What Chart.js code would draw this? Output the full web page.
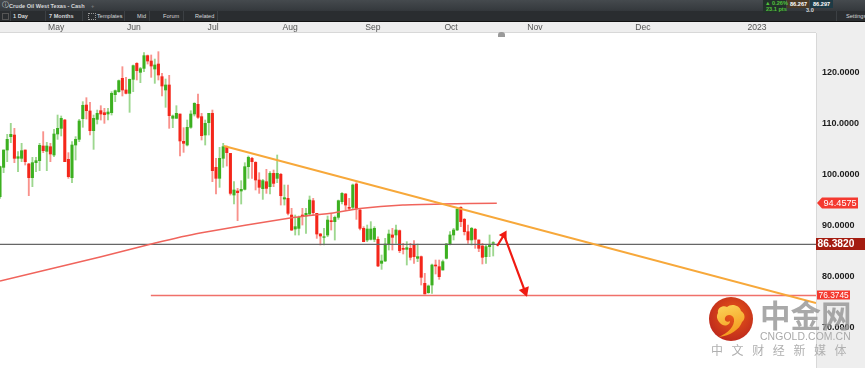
<!DOCTYPE html>
<html>
<head>
<meta charset="utf-8">
<script src="https://cdn.jsdelivr.net/npm/chart.js@4"></script>
<style>
  html, body { margin: 0; padding: 0; background: #fff; overflow: hidden; }
  #wrap { position: relative; width: 865px; height: 368px; font-family: "Liberation Sans", Arial, sans-serif; }
  canvas { position: absolute; left: 0; top: 0; }
  .bar1, .bar2 { position: absolute; left: 0; width: 865px; }
  .bar1 { top: 0; height: 11px; background: linear-gradient(#454a4e, #34383c); }
  .bar2 { top: 11px; height: 10px; background: #2a2d30; border-bottom: 1px solid #111; }
  .t { position: absolute; color: #d6d8da; font-size: 5.6px; font-weight: bold; white-space: nowrap; line-height: 8px; }
  .box { position: absolute; }
  .sep { position: absolute; top: 11px; width: 1px; height: 10px; background: #3c4044; }
  .mark { position: absolute; white-space: nowrap; }
</style>
</head>
<body>
<div id="wrap">
  <canvas id="myChart" width="865" height="368"></canvas>

  <div class="bar1"></div>
  <div class="bar2"></div>
  <div class="sep" style="left:10px"></div>
  <div class="sep" style="left:45px"></div>
  <div class="sep" style="left:82px"></div>
  <div class="sep" style="left:124px"></div>
  <div class="sep" style="left:149px"></div>
  <div class="sep" style="left:183px"></div>
  <div class="sep" style="left:217px"></div>
  <div class="sep" style="left:836px"></div>
  <div class="box" style="left:2px;top:13px;width:5px;height:5px;border:1px solid #555"></div>
  <div class="box" style="left:88px;top:13px;width:6px;height:5px;border:1px dotted #999"></div>
  <div class="t" style="left:2px;top:1px;font-size:7px;font-weight:normal">&#9432;</div>
  <div class="t" style="left:9px;top:2px">Crude Oil West Texas - Cash</div>
  <div class="t" style="left:91px;top:2px;color:#777">+</div>
  <div class="t" style="left:13px;top:12px">1 Day</div>
  <div class="t" style="left:49px;top:12px">7 Months</div>
  <div class="t" style="left:97px;top:12px;font-weight:normal">Templates</div>
  <div class="t" style="left:137px;top:12px;font-weight:normal">Mid</div>
  <div class="t" style="left:163px;top:12px;font-weight:normal">Forum</div>
  <div class="t" style="left:195px;top:12px;font-weight:normal">Related</div>

  <div class="box" style="left:763px;top:0;width:23px;height:13px;background:#23312a"></div>
  <div class="box" style="left:787px;top:0;width:22px;height:8px;background:#4a3a26"></div>
  <div class="box" style="left:810px;top:0;width:23px;height:8px;background:#1d3a45"></div>
  <div class="t" style="left:765px;top:-1px;color:#52c23c">▲ 0.26%</div>
  <div class="t" style="left:766px;top:5px;color:#52c23c">23.1 pts</div>
  <div class="t" style="left:790px;top:0;color:#fff">86.267</div>
  <div class="t" style="left:813px;top:0;color:#fff">86.297</div>
  <div class="t" style="left:806px;top:6px">3.0</div>
  <div class="t" style="left:846px;top:12px;font-weight:normal">Settings</div>

  <div class="box" style="left:498px;top:32px;width:7px;height:5px;background:#9a9a9a;border-radius:3px 3px 0 0"></div>

  <svg class="box" style="left:708px;top:296px" width="46" height="46" viewBox="0 0 46 46">
    <defs>
      <radialGradient id="disc" cx="55%" cy="40%" r="60%">
        <stop offset="0" stop-color="#ea5a18"/>
        <stop offset="1" stop-color="#bf2a1c"/>
      </radialGradient>
      <linearGradient id="swirl" x1="0" y1="0" x2="0.3" y2="1">
        <stop offset="0" stop-color="#fbd65a"/>
        <stop offset="1" stop-color="#f59a1e"/>
      </linearGradient>
    </defs>
    <circle cx="23" cy="23" r="22" fill="url(#disc)"/>
    <path d="M10 17 C9 12 15 9 19 11 C23 7 32 9 33 15 C37 17 38 23 34 26 C32 33 22 40 11 41 C20 37 27 30 26 23 C25 18 18 18 17 22 C16 25 20 27 22 25 C22 30 15 31 12 27 C9 24 8 20 10 17 Z" fill="url(#swirl)"/>
  </svg>
  <div class="mark" style="left:760px;top:297px;font:bold 30.5px/34px 'Noto Sans CJK SC';color:rgba(150,150,150,.82)">中金网</div>
  <div class="mark" style="left:760px;top:331px;font:10.4px/11px 'Liberation Sans';letter-spacing:.1px;color:#aaa">CNGOLD.COM.CN</div>
  <div class="mark" style="left:711px;top:342px;font:12px/15px 'Noto Sans CJK SC';letter-spacing:8.6px;color:#b0b0b0">中文财经新媒体</div>
</div>

<script>
// Crude oil daily candles (one entry per trading day)
const opens = [95.75,101.5,104.9,107.52,107.84,103.27,103.27,104.9,102.16,99.48,102.42,102.81,105.69,104.64,105.55,103.92,108.04,109.15,110.78,103.07,
  99.48,105.88,106.99,111.05,113.72,112.55,108.69,110.91,112.61,112.22,111.96,112.22,115.75,116.34,118.95,116.67,116.01,118.76,121.89,120.13,
  120.91,123.4,122.35,120.78,121.76,119.28,116.67,117.65,111.11,111.11,111.96,106.6,105.88,109.35,111.96,113.86,111.44,107.84,110.26,112.09,
  101.5,99.35,103.27,105.42,104.24,96.07,96.86,96.86,97.19,101.63,103.26,102.48,99.02,97.32,98.69,97.71,100.32,99.34,100.13,95.29,
  95.42,92.15,89.41,89.54,92.15,91.96,92.35,94.96,92.48,88.43,87.77,88.23,91.04,90.85,91.7,94.77,96.27,93.66,93.66,98.23,
  93.13,89.54,87.25,87.38,87.38,87.39,82.68,83.14,86.47,88.24,88.24,89.09,85.62,85.42,85.62,86.27,83.66,83.99,78.76,76.93,
  78.43,82.35,82.02,81.37,83.66,86.47,88.24,89.22,93.66,91.31,88.89,87.26,89.35,87.26,86.08,83.99,85.95,86.6];
const highs = [101.76,104.9,107.97,110.13,109.15,104.57,106.21,104.9,102.29,103.46,103.46,106.21,108.5,106.4,106.21,108.95,111.76,111.57,110.91,104.38,
  106.54,107.52,110.91,114.38,115.16,114.25,111.76,112.74,113.59,113.07,113.07,116.34,116.67,118.63,121.24,119.15,118.82,121.57,122.03,121.11,
  123.99,123.53,123.53,122.74,124.18,119.93,118.82,119.54,111.76,113.59,111.96,109.28,110.78,112.61,114.18,115.88,112.09,110.78,112.09,112.74,
  103.27,105.42,106.21,105.69,104.24,98.69,97.38,98.89,102.41,103.72,103.46,102.61,100.45,99.15,101.11,100.65,100.98,103.92,100.32,98.04,
  98.04,93.46,92.15,91.96,93.46,93.46,95.88,95.42,92.48,88.56,89.54,91.96,92.48,91.96,95.09,96.53,96.4,95.42,98.23,98.49,
  93.46,89.87,90.19,90.85,89.87,87.9,84.31,87.58,89.22,89.54,90.2,89.22,86.6,86.93,86.6,87.12,86.47,84.12,80.72,78.43,
  82.55,83.33,83.33,83.33,86.6,88.89,89.54,93.46,93.79,91.5,90.2,89.74,89.54,87.26,86.6,86.27,88.24,86.93];
const lows = [95.42,100.46,102.61,106.34,102.42,100.65,102.61,101.96,95.95,97.71,100.65,100.85,104.38,100.85,102.61,103.59,106.99,107.65,102.61,99.35,
  98.5,102.94,106.54,109.35,110.98,107.84,105.03,110,110.78,110.13,110.78,111.76,114.38,116.21,115.49,115.88,112.29,116.34,118.63,118.1,
  120.26,121.76,119.15,117.97,118.63,115.49,113.27,109.15,109.28,111.11,103.72,104.44,105.69,109.15,111.57,111.11,106.86,105.88,107.84,98.69,
  96.27,97.58,101.5,101.76,96.07,94.31,91.04,94.31,97.06,99.34,99.34,97.06,96.4,95.22,96.4,96.27,97.71,98.49,94.11,94.11,
  92.15,89.08,88.23,88.23,90.19,88.56,92.15,92.15,87.58,86.27,86.27,87.9,89.21,87.25,91.3,94.31,93.13,93,93.26,91.3,
  89.21,86.92,86.92,87.25,86.92,82.03,81.5,83.01,85.29,85.29,86.6,84.77,84.51,82.35,83.33,82.68,83.01,78.43,76.67,76.8,
  76.8,80.59,79.54,81.37,83.53,86.27,87.26,89.09,89.87,88.24,86.6,86.27,85.62,84.97,82.55,82.68,83.99,84.12];
const closes = [101.63,104.9,106.99,107.97,103.27,103.59,104.77,102.61,99.48,102.42,102.81,105.82,104.77,105.69,104.12,108.04,109.15,111.11,102.61,99.67,
  105.88,106.99,110.59,113.66,112.61,108.69,111.11,112.09,111.96,111.83,112.35,116.01,116.54,118.5,116.67,116.01,118.76,121.44,120.46,120.85,
  123.4,122.35,121.37,121.57,119.61,117.45,117.65,111.63,111.57,112.09,106.67,106.21,109.35,111.96,114.05,111.31,107.71,110.13,112.09,100.85,
  99.35,103.27,105.55,104.38,96.4,97.06,96.53,97.19,101.63,103.46,102.61,99.02,97.58,98.89,97.38,100.32,98.36,100.32,95.94,95.55,
  92.48,89.21,89.87,91.7,91.96,92.48,95.09,92.61,88.43,88.04,87.9,91.17,90.85,91.7,94.96,96.4,94.11,93.46,98.04,93.46,
  89.54,86.92,89.41,89.41,89.54,82.16,83.14,86.47,88.43,87.78,89.22,85.16,85.42,85.75,83.86,83.99,83.99,79.94,76.67,78.24,
  82.35,82.16,80.07,83.01,86.47,88.24,89.22,93.27,90.85,88.89,87.26,89.54,87.39,85.62,83.86,85.95,86.27,86.73];

// Time axis, in trading-day slots
const monthLabels = ["May","Jun","Jul","Aug","Sep","Oct","Nov","Dec","2023"];
const monthSlots = [15.6,37.2,59.2,80.6,103.6,125.3,148.6,178.6,210.3];
const slotCount = 226.67;

// Price axis
const priceTicks = [70,80,90,100,110,120];

// Long moving average (red curve)
const maSlots = [0,27.8,43.1,55.6,80.6,92.5,100,111.9,123,138];
const maValues = [79.22,83.92,86.67,88.63,91.57,92.55,93.43,94.12,94.31,94.46];

// Hand drawn trend line and arrow
const trendSlots = [62.2,226.67];
const trendValues = [105.69,74.9];
const arrowSlots = [138.1,140,145.8];
const arrowValues = [86.08,88.24,77.25];

// Price levels
const maLevel = 94.4575;
const lastPrice = 86.382;
const supportLevel = 76.3745;
const supportStart = 41.9;

const GREEN = "#3cb020";
const RED = "#f4261a";

const toPoints = (xs, ys) => xs.map((x, i) => ({ x: x, y: ys[i] }));
const isUp = (i) => closes[i] >= opens[i];

const wickData = highs.map((h, i) => ({ x: i, y: [lows[i], h] }));
const bodyData = opens.map((o, i) => ({ x: i, y: [o, closes[i]] }));

// the toolbar sits over the canvas, so axis labels must not add padding
const noPadding = (s) => {
  s.paddingLeft = 0;
  s.paddingRight = 0;
  s.paddingTop = 0;
  s.paddingBottom = 0;
};

// white plot on the grey axis bands
const backdrop = {
  id: "backdrop",
  beforeDraw(chart) {
    const { ctx, chartArea: a } = chart;
    ctx.save();
    ctx.fillStyle = "#eeeeee";
    ctx.fillRect(0, 0, chart.width, chart.height);
    ctx.fillStyle = "#ffffff";
    ctx.fillRect(a.left, a.top, a.right - a.left, a.bottom - a.top);
    ctx.fillStyle = "#d8d8d8";
    ctx.fillRect(0, a.top - 1, a.right, 1);
    ctx.fillRect(a.right, a.top, 1, a.bottom - a.top);
    ctx.restore();
  },
};

// price tags on the right axis
const priceTags = {
  id: "priceTags",
  afterDraw(chart) {
    const { ctx, scales } = chart;
    const tag = (value, x, w, h, bg, font, pointer) => {
      const y = Math.round(scales.y.getPixelForValue(value));
      ctx.fillStyle = bg;
      ctx.fillRect(x, y - h / 2, w, h);
      if (pointer) {
        ctx.beginPath();
        ctx.moveTo(x, y - h / 2);
        ctx.lineTo(x - 5, y);
        ctx.lineTo(x, y + h / 2);
        ctx.fill();
      }
      ctx.fillStyle = "#ffffff";
      ctx.font = font;
      ctx.textAlign = "left";
      ctx.textBaseline = "middle";
      ctx.fillText(value.toFixed(4), x + 1.5, y + 0.5);
    };
    ctx.save();
    tag(maLevel, 822, 36, 11, "#f4392f", "9.2px 'Liberation Sans'", true);
    tag(lastPrice, 816, 49, 12, "#a41c10", "bold 10.2px 'Liberation Sans'", false);
    tag(supportLevel, 817, 33, 9, "#f4392f", "8.4px 'Liberation Sans'", false);
    ctx.restore();
  },
};

const ctx = document.getElementById("myChart").getContext("2d");
const chart = new Chart(ctx, {
  type: "bar",
  plugins: [backdrop, priceTags],
  data: {
    datasets: [
      {
        type: "line",
        label: "Trend",
        data: toPoints(trendSlots, trendValues),
        borderColor: "#f7a83a",
        borderWidth: 2,
        pointRadius: 0,
        order: 1,
      },
      {
        type: "line",
        label: "Arrow",
        data: toPoints(arrowSlots, arrowValues),
        borderColor: "#f01a12",
        borderWidth: 2.2,
        pointStyle: "triangle",
        pointRadius: [0, 3, 4],
        pointRotation: [0, 30, 160],
        pointBackgroundColor: "#f01a12",
        pointBorderColor: "#f01a12",
        order: 0,
      },
      {
        type: "line",
        label: "MA",
        data: toPoints(maSlots, maValues),
        borderColor: "#f0645c",
        borderWidth: 1.5,
        pointRadius: 0,
        tension: 0.15,
        order: 2,
      },
      {
        type: "line",
        label: "Last",
        data: toPoints([0, slotCount], [lastPrice, lastPrice]),
        borderColor: "#666666",
        borderWidth: 1.3,
        pointRadius: 0,
        order: 3,
      },
      {
        type: "line",
        label: "Support",
        data: toPoints([supportStart, slotCount], [supportLevel, supportLevel]),
        borderColor: "#f0706a",
        borderWidth: 1.3,
        pointRadius: 0,
        order: 3,
      },
      {
        label: "Body",
        data: bodyData,
        backgroundColor: (c) => (isUp(c.dataIndex) ? GREEN : RED),
        barThickness: 2.4,
        grouped: false,
        borderWidth: 0,
        borderSkipped: false,
        order: 4,
      },
      {
        label: "Wick",
        data: wickData,
        backgroundColor: (c) => (isUp(c.dataIndex) ? "rgba(60,176,32,0.5)" : "rgba(244,38,26,0.5)"),
        barThickness: 1.2,
        grouped: false,
        borderWidth: 0,
        borderSkipped: false,
        order: 5,
      },
    ],
  },
  options: {
    responsive: false,
    animation: false,
    maintainAspectRatio: false,
    layout: { autoPadding: false, padding: { top: 22, left: 0, right: 0, bottom: 0 } },
    plugins: { legend: { display: false }, tooltip: { enabled: false } },
    scales: {
      x: {
        type: "linear",
        position: "top",
        offset: false,
        min: 0,
        max: slotCount,
        grid: { display: false, drawTicks: false },
        border: { display: false },
        afterBuildTicks: (s) => { s.ticks = monthSlots.map((v) => ({ value: v })); },
        afterFit: (s) => { s.height = 11; noPadding(s); },
        ticks: {
          autoSkip: false,
          maxRotation: 0,
          padding: 0,
          color: "#555555",
          font: { family: "Liberation Sans", size: 8.6 },
          callback: (v) => monthLabels[monthSlots.indexOf(v)],
        },
      },
      y: {
        position: "right",
        min: 62.157,
        max: 127.843,
        grid: { display: false, drawTicks: false },
        border: { display: false },
        afterBuildTicks: (s) => { s.ticks = priceTicks.map((v) => ({ value: v })); },
        afterFit: (s) => { s.width = 49; noPadding(s); },
        ticks: {
          padding: 6,
          color: "#1c1c1c",
          font: { family: "Liberation Sans", size: 9, weight: "bold" },
          callback: (v) => v.toFixed(4),
        },
      },
    },
  },
});
</script>
</body>
</html>
